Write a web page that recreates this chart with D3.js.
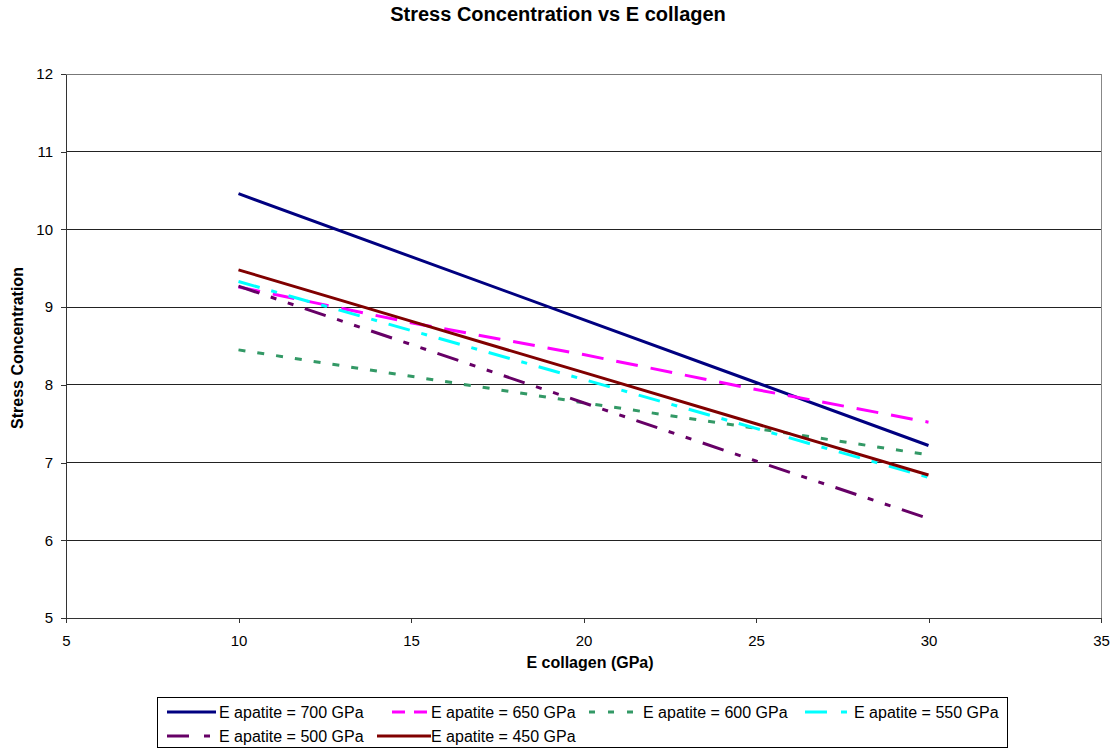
<!DOCTYPE html>
<html>
<head>
<meta charset="utf-8">
<script src="https://cdn.jsdelivr.net/npm/d3@7"></script>
<style>
  body { margin: 0; background: #fff; }
  svg { font-family: "Liberation Sans", Arial, sans-serif; }
</style>
</head>
<body>
<svg id="chart" width="1115" height="750"></svg>
<script>
// E collagen values (GPa)
const eCollagen = [10, 15, 20, 25, 30];

// Stress concentration for each apatite modulus
const series700 = [10.46, 9.65, 8.84, 8.03, 7.22];
const series650 = [9.26, 8.80, 8.39, 7.94, 7.52];
const series600 = [8.45, 8.11, 7.77, 7.44, 7.10];
const series550 = [9.33, 8.70, 8.07, 7.44, 6.81];
const series500 = [9.27, 8.52, 7.77, 7.02, 6.28];
const series450 = [9.48, 8.82, 8.16, 7.50, 6.84];

const seriesNames = [
  "E apatite = 700 GPa", "E apatite = 650 GPa", "E apatite = 600 GPa",
  "E apatite = 550 GPa", "E apatite = 500 GPa", "E apatite = 450 GPa"
];
const seriesValues = [series700, series650, series600, series550, series500, series450];

const xTicks = [5, 10, 15, 20, 25, 30, 35];
const yTicks = [5, 6, 7, 8, 9, 10, 11, 12];

// Styling per series
const colors = ["#000080", "#FF00FF", "#339966", "#00FFFF", "#660066", "#800000"];
const dashes = [null, "22,13", "7,12", "22,12,6,12", "22,12,6,12,6,12", null];

// Legend key samples: start offset, length and dash pattern
const keyStart = [2, 15, 0, 5, 2, 0];
const keyLength = [49, 36, 46, 43, 43, 54];
const keyDashes = [null, "13,9", "6,13", "22,14,6,20", "22,15,6,20", null];

const svg = d3.select("#chart");
const margin = { left: 66, right: 1101, top: 74, bottom: 618 };

const x = d3.scaleLinear().domain([5, 35]).range([margin.left, margin.right]);
const y = d3.scaleLinear().domain([5, 12]).range([margin.bottom, margin.top]);

// Title
svg.append("text")
  .attr("x", 558).attr("y", 21)
  .attr("text-anchor", "middle")
  .attr("font-size", 20).attr("font-weight", "bold")
  .text("Stress Concentration vs E collagen");

// Horizontal gridlines
svg.append("g").selectAll("line")
  .data(yTicks.filter(t => t > 5))
  .join("line")
  .attr("x1", margin.left).attr("x2", margin.right)
  .attr("y1", d => y(d)).attr("y2", d => y(d))
  .attr("stroke", d => d === 12 ? "#777" : "#222").attr("stroke-width", 1)
  .attr("shape-rendering", "crispEdges");

// Right border of plot area
svg.append("line")
  .attr("x1", margin.right).attr("x2", margin.right)
  .attr("y1", margin.top).attr("y2", margin.bottom)
  .attr("stroke", "#888").attr("stroke-width", 1)
  .attr("shape-rendering", "crispEdges");

// Axes
const xAxis = svg.append("g")
  .attr("transform", `translate(0,${margin.bottom})`)
  .call(d3.axisBottom(x).tickValues(xTicks).tickFormat(d3.format("d"))
    .tickSize(5).tickPadding(12).tickSizeOuter(0));
const yAxis = svg.append("g")
  .attr("transform", `translate(${margin.left},0)`)
  .call(d3.axisLeft(y).tickValues(yTicks).tickFormat(d3.format("d"))
    .tickSize(5).tickPadding(8).tickSizeOuter(0));

[xAxis, yAxis].forEach(a => {
  a.select(".domain").attr("stroke", "#333").attr("shape-rendering", "crispEdges");
  a.selectAll(".tick line").attr("stroke", "#333").attr("shape-rendering", "crispEdges");
  a.selectAll("text").attr("font-size", 15).attr("fill", "#000")
    .attr("font-family", "Liberation Sans, Arial, sans-serif");
});

// Axis titles
svg.append("text")
  .attr("x", 590).attr("y", 668)
  .attr("text-anchor", "middle")
  .attr("font-size", 16).attr("font-weight", "bold")
  .text("E collagen (GPa)");

svg.append("text")
  .attr("transform", "translate(23,348) rotate(-90)")
  .attr("text-anchor", "middle")
  .attr("font-size", 16).attr("font-weight", "bold")
  .text("Stress Concentration");

// Series lines
const line = d3.line().x((d, i) => x(eCollagen[i])).y(d => y(d));
svg.append("g").selectAll("path")
  .data(seriesValues)
  .join("path")
  .attr("d", d => line(d))
  .attr("fill", "none")
  .attr("stroke", (d, i) => colors[i])
  .attr("stroke-width", 3)
  .attr("stroke-dasharray", (d, i) => dashes[i]);

// Legend
const legend = svg.append("g");
legend.append("rect")
  .attr("x", 157.5).attr("y", 697.5)
  .attr("width", 850).attr("height", 50)
  .attr("fill", "#fff").attr("stroke", "#000").attr("stroke-width", 1);

const colX = [165, 377, 589, 800];
const rowY = [712, 736];
seriesNames.forEach((name, i) => {
  const cx = colX[i % 4];
  const ry = rowY[Math.floor(i / 4)];
  legend.append("line")
    .attr("x1", cx + keyStart[i]).attr("x2", cx + keyStart[i] + keyLength[i])
    .attr("y1", ry).attr("y2", ry)
    .attr("stroke", colors[i]).attr("stroke-width", 3)
    .attr("stroke-dasharray", keyDashes[i]);
  legend.append("text")
    .attr("x", cx + 54).attr("y", ry + 6)
    .attr("font-size", 16)
    .text(name);
});
</script>
</body>
</html>
